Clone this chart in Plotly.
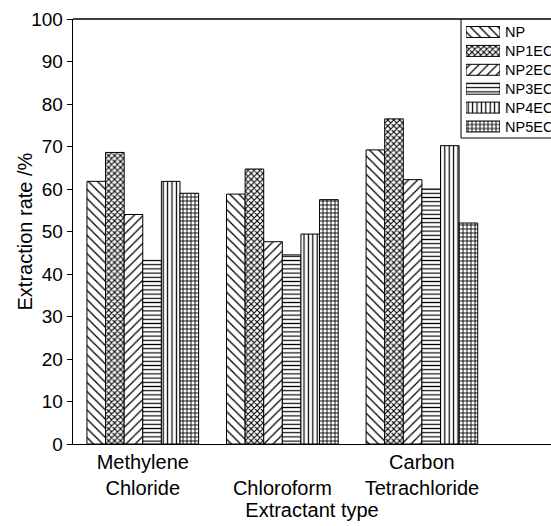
import plotly.graph_objects as go

categories = ["Methylene<br>Chloride", " <br>Chloroform", "Carbon<br>Tetrachloride"]
series_names = ["NP", "NP1EC", "NP2EC", "NP3EC", "NP4EC", "NP5EC"]
values = {
    "NP":    [61.8, 58.8, 69.2],
    "NP1EC": [68.6, 64.7, 76.5],
    "NP2EC": [54.0, 47.6, 62.2],
    "NP3EC": [43.2, 44.5, 60.0],
    "NP4EC": [61.8, 49.4, 70.2],
    "NP5EC": [59.0, 57.5, 52.0],
}
y_ticks = [0, 10, 20, 30, 40, 50, 60, 70, 80, 90, 100]

patterns = {
    "NP":    dict(shape="\\", size=6.5, solidity=0.2),
    "NP1EC": dict(shape="x", size=4.2, solidity=0.45),
    "NP2EC": dict(shape="/", size=6.5, solidity=0.2),
    "NP3EC": dict(shape="-", size=4.2, solidity=0.28),
    "NP4EC": dict(shape="|", size=4.4, solidity=0.28),
    "NP5EC": dict(shape="+", size=4.0, solidity=0.4),
}

FONT = "Liberation Sans, Arial, sans-serif"
W, H = 551, 526
ML, MR, MT, MB = 73, 0, 19, 82
PW, PH = W - ML - MR, H - MT - MB

def px_x(px):
    return (px - ML) / PW

def px_y(py):
    return (H - MB - py) / PH

fig = go.Figure()
xs = list(range(len(categories)))
for name in series_names:
    p = patterns[name]
    fig.add_trace(go.Bar(
        x=xs, y=values[name], name=name, showlegend=False,
        marker=dict(color="white", line=dict(color="black", width=1),
                    pattern=dict(shape=p["shape"], size=p["size"], solidity=p["solidity"],
                                 fgcolor="black", bgcolor="white", fillmode="replace")),
    ))

# custom legend patches drawn as bars on an overlay axis
row0, rowstep = 32, 18.9
leg_top = row0 - rowstep / 2
leg_bot = row0 + rowstep * 5 + rowstep / 2
for i, name in enumerate(series_names):
    p = patterns[name]
    fig.add_trace(go.Bar(
        x=[1], y=[i], orientation="h", xaxis="x2", yaxis="y2", width=0.58,
        showlegend=False, hoverinfo="skip",
        marker=dict(color="white", line=dict(color="black", width=1),
                    pattern=dict(shape=p["shape"], size=p["size"], solidity=p["solidity"],
                                 fgcolor="black", bgcolor="white", fillmode="replace")),
    ))
    fig.add_annotation(text=name, xref="paper", yref="paper",
                       x=px_x(503), y=px_y(row0 + rowstep * i),
                       xanchor="left", yanchor="middle", showarrow=False,
                       font=dict(family=FONT, size=14.5, color="black"))

# y-axis title as rotated annotation
fig.add_annotation(text="Extraction rate /%", xref="paper", yref="paper",
                   x=px_x(24), y=0.5, xanchor="center", yanchor="middle",
                   textangle=-90, showarrow=False,
                   font=dict(family=FONT, size=20, color="black"))

# plot frame top line and legend box (open on the cropped right side)
lx0, ly0, ly1 = px_x(461), px_y(19), px_y(138)
fig.add_shape(type="line", xref="paper", yref="paper",
              x0=0, x1=1, y0=1, y1=1, line=dict(color="black", width=1.3))
fig.add_shape(type="line", xref="paper", yref="paper",
              x0=lx0, x1=lx0, y0=ly0, y1=ly1, line=dict(color="black", width=1))
fig.add_shape(type="line", xref="paper", yref="paper",
              x0=lx0, x1=1, y0=ly1, y1=ly1, line=dict(color="black", width=1))

hidden_axis = dict(showline=False, zeroline=False, showgrid=False, ticks="",
                   showticklabels=False, fixedrange=True)

fig.update_layout(
    width=W, height=H,
    margin=dict(l=ML, r=MR, t=MT, b=MB),
    paper_bgcolor="white", plot_bgcolor="white",
    bargap=0.2, bargroupgap=0, barmode="group",
    font=dict(family=FONT, color="black", size=19),
    dragmode=False,
    xaxis=dict(
        range=[-0.5, 2.925], fixedrange=True,
        tickmode="array", tickvals=xs, ticktext=categories,
        showline=True, linecolor="black", linewidth=1.3, mirror=False,
        ticks="", showgrid=False, zeroline=False,
        tickfont=dict(size=20),
        title=dict(text="Extractant type", font=dict(size=20), standoff=4),
    ),
    yaxis=dict(
        range=[0, 100], tickmode="array", tickvals=y_ticks, fixedrange=True,
        showline=True, linecolor="black", linewidth=1.3,
        ticks="outside", ticklen=5, tickcolor="black",
        showgrid=False, zeroline=False,
        tickfont=dict(size=19),
    ),
    xaxis2=dict(domain=[px_x(466), px_x(500)], range=[0, 1], anchor="y2", **hidden_axis),
    yaxis2=dict(domain=[px_y(leg_bot), px_y(leg_top)], range=[5.5, -0.5], anchor="x2", **hidden_axis),
)

fig.write_html("out.html", config={"staticPlot": True})
